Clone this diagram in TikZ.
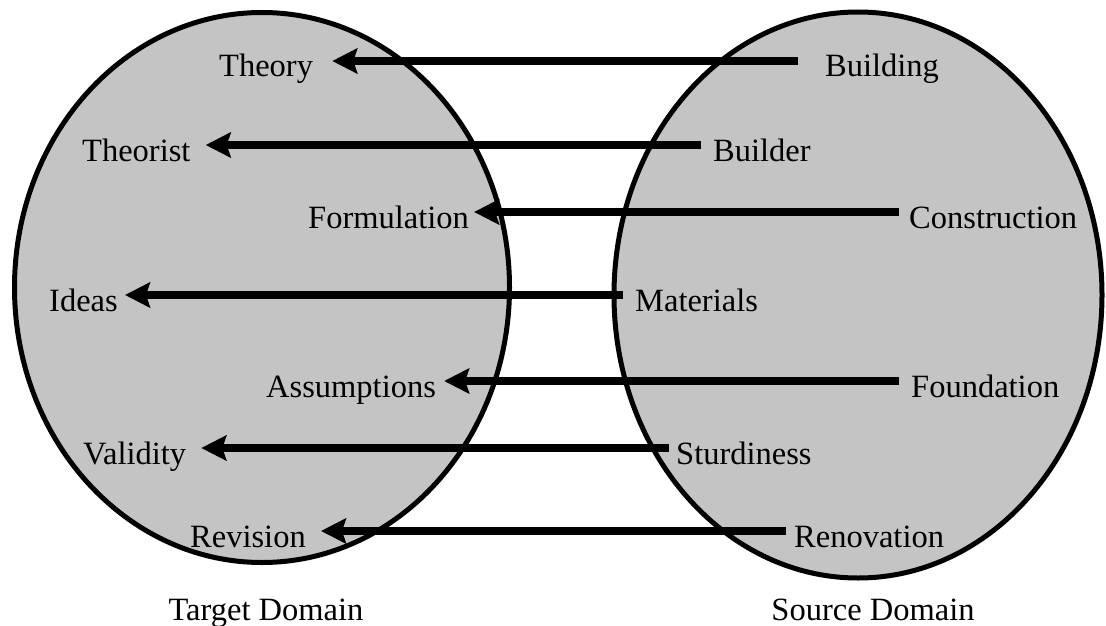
\documentclass[tikz,border=0pt]{standalone}
\usepackage{fontspec}
\setmainfont{Liberation Serif}
\usetikzlibrary{arrows.meta}
\definecolor{domfill}{RGB}{196,196,196}
\begin{document}
\begin{tikzpicture}[x=1pt,y=-1pt,
  domainellipse/.style={draw=black,line width=5pt,fill=domfill},
  lbl/.style={inner sep=0pt,anchor=base west,font=\fontsize{32.5}{39}\selectfont},
  captext/.style={inner sep=0pt,anchor=base,font=\fontsize{32.5}{39}\selectfont},
  maparrow/.style={line width=8pt,-{Stealth[length=25pt,width=25pt,inset=4pt]}}]
\useasboundingbox (0,0) rectangle (1106,626);
\draw[domainellipse] (262,287.5) ellipse [x radius=247.5, y radius=275];
\draw[domainellipse] (858,295) ellipse [x radius=244, y radius=283];
% target labels
\node[lbl] (theory) at (219,77) {Theory};
\node[lbl] (theorist) at (82,161) {Theorist};
\node[lbl] (formulation) at (308,228) {Formulation};
\node[lbl] (ideas) at (49,311) {Ideas};
\node[lbl] (assumptions) at (266,397) {Assumptions};
\node[lbl] (validity) at (83,464) {Validity};
\node[lbl] (revision) at (190,547) {Revision};
% source labels
\node[lbl] (building) at (825,77) {Building};
\node[lbl] (builder) at (713,161) {Builder};
\node[lbl] (construction) at (909,228) {Construction};
\node[lbl] (materials) at (635,311) {Materials};
\node[lbl] (foundation) at (911,397) {Foundation};
\node[lbl] (sturdiness) at (676,464) {Sturdiness};
\node[lbl] (renovation) at (794,547) {Renovation};
% captions
\node[captext] (target) at (266,620) {Target Domain};
\node[captext] (source) at (873,620) {Source Domain};
% arrows
\draw[maparrow] ([shift={(-27pt,16pt)}]building.base west) -- ([shift={(19pt,16pt)}]theory.base east);
\draw[maparrow] ([shift={(-12pt,16pt)}]builder.base west) -- ([shift={(15pt,16pt)}]theorist.base east);
\draw[maparrow] ([shift={(-10pt,16pt)}]construction.base west) -- ([shift={(5pt,16pt)}]formulation.base east);
\draw[maparrow] ([shift={(-12pt,16pt)}]materials.base west) -- ([shift={(7pt,16pt)}]ideas.base east);
\draw[maparrow] ([shift={(-12pt,16pt)}]foundation.base west) -- ([shift={(8pt,16pt)}]assumptions.base east);
\draw[maparrow] ([shift={(-7pt,16pt)}]sturdiness.base west) -- ([shift={(15pt,16pt)}]validity.base east);
\draw[maparrow] ([shift={(-8pt,16pt)}]renovation.base west) -- ([shift={(15pt,16pt)}]revision.base east);
\end{tikzpicture}
\end{document}
